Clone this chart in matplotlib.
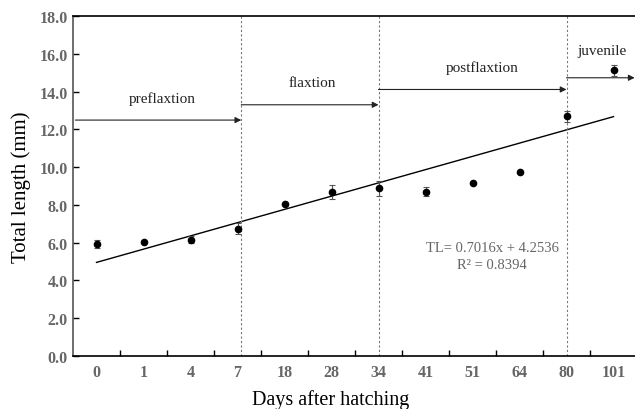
import matplotlib.pyplot as plt
import numpy as np

# data
days = ['0', '1', '4', '7', '18', '28', '34', '41', '51', '64', '80', '101']
tl_mean = [5.93, 6.02, 6.16, 6.74, 8.03, 8.66, 8.89, 8.70, 9.16, 9.72, 12.69, 15.12]
tl_err = [0.22, 0.05, 0.20, 0.30, 0.05, 0.37, 0.40, 0.25, 0.05, 0.05, 0.30, 0.28]

slope, intercept = 0.7016, 4.2536

stage_names = ['preflaxtion', 'flaxtion', 'postflaxtion', 'juvenile']
stage_start = [-0.45, 3.08, 6.0, 10.0]
stage_end = [3.08, 6.0, 10.0, 11.45]
stage_y = [12.49, 13.30, 14.11, 14.73]
label_y = [13.3, 14.15, 14.95, 15.85]
label_x = [1.4, 4.6, 8.2, 10.75]

divisions = [3.08, 6.0, 10.0]

serif = ['Liberation Serif', 'DejaVu Serif']
plt.rcParams['font.family'] = serif

fig = plt.figure(figsize=(6.35, 4.1), dpi=100)
ax = fig.add_axes([73 / 635, 53 / 410, 564 / 635, 340 / 410])

pos = np.arange(len(days))
ax.errorbar(pos, tl_mean, yerr=tl_err, fmt='o', color='black', ms=4.5,
            ecolor='#555555', elinewidth=0.8, capsize=2.5, capthick=0.8, zorder=3)

xfit = pos + 1
ax.plot(pos, slope * xfit + intercept, color='black', lw=1.0)

for d in divisions:
    ax.axvline(d, color='#777777', lw=0.8, ls=(0, (2, 2)))

for name, x0, x1, y, lx, ly in zip(stage_names, stage_start, stage_end, stage_y, label_x, label_y):
    ax.annotate('', xy=(x1, y), xytext=(x0, y),
                arrowprops=dict(arrowstyle='-|>', color='#222222', lw=0.8,
                                mutation_scale=9, shrinkA=0, shrinkB=0))
    ax.text(lx, ly, name, ha='center', va='bottom', fontsize=11, color='#222222')

ax.text(8.42, 5.3, 'TL= 0.7016x + 4.2536\nR² = 0.8394', ha='center', va='center',
        fontsize=10.5, color='#666666', linespacing=1.45)

ax.set_xlim(-0.5, 11.5)
ax.set_ylim(0, 18)
ax.set_xticks(pos)
ax.set_xticklabels(days)
ax.set_xticks(pos[:-1] + 0.5, minor=True)
ax.set_yticks(np.arange(0, 19, 2))
ax.set_yticklabels([f'{v:.1f}' for v in np.arange(0, 19, 2)])

ax.tick_params(axis='x', which='major', length=0, pad=6)
ax.tick_params(axis='x', which='minor', direction='in', length=4, width=1)
ax.tick_params(axis='y', direction='in', length=4, width=1, pad=4)
for lab in ax.get_xticklabels() + ax.get_yticklabels():
    lab.set_fontweight('bold')
    lab.set_color('#666666')
    lab.set_fontsize(11.5)

ax.spines['right'].set_visible(False)
for s in ['left', 'bottom', 'top']:
    ax.spines[s].set_linewidth(1.2)
ax.spines['left'].set_color('#555555')

ax.set_xlabel('Days after hatching', fontsize=14.5, labelpad=4)
ax.xaxis.set_label_coords(0.457, -0.098)
ax.set_ylabel('Total length (mm)', fontsize=15, labelpad=6)

fig.savefig('out.png', dpi=100)
